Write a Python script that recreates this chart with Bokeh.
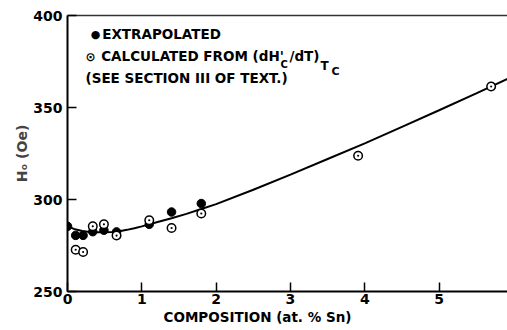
from bokeh.plotting import figure
from bokeh.models import Label, LinearAxis, FixedTicker, Range1d, Title
from bokeh.embed import file_html
from bokeh.resources import INLINE

# Extrapolated H0 values (filled circles)
ext_x = [0.0, 0.11, 0.21, 0.34, 0.49, 0.66, 1.10, 1.40, 1.80]
ext_y = [285.4, 280.5, 280.5, 282.5, 283.3, 282.4, 286.5, 293.2, 297.8]

# Calculated from (dHc'/dT)Tc (open circles with dot)
calc_x = [0.11, 0.21, 0.34, 0.49, 0.66, 1.10, 1.40, 1.80, 3.91, 5.70]
calc_y = [272.7, 271.5, 285.4, 286.5, 280.4, 288.7, 284.5, 292.4, 323.8, 361.4]

# Fitted curve
curve_x = [0.0, 0.1, 0.2, 0.3, 0.4, 0.5, 0.6, 0.7, 0.8, 0.9, 1.0, 1.2, 1.4,
           1.6, 1.8, 2.0, 2.5, 3.0, 3.5, 4.0, 4.5, 5.0, 5.5, 5.92]
curve_y = [285.5, 283.8, 282.9, 282.4, 282.2, 282.2, 282.4, 282.8, 283.5,
           284.4, 285.4, 287.6, 289.8, 292.2, 294.8, 297.5, 305.3, 313.5,
           322.0, 330.5, 339.5, 348.5, 357.7, 365.5]

x_ticks = [0, 1, 2, 3, 4, 5]
y_ticks = [250, 300, 350, 400]

FONT = "DejaVu Sans"

p = figure(width=507, height=330, x_range=Range1d(0, 5.92), y_range=Range1d(250, 400),
           output_backend="svg", toolbar_location=None,
           min_border_left=67, min_border_right=0, min_border_top=15, min_border_bottom=39)
p.grid.visible = False
p.outline_line_color = None
p.background_fill_color = "white"
p.border_fill_color = "white"

for ax, ticks in ((p.xaxis, x_ticks), (p.yaxis, y_ticks)):
    ax.ticker = FixedTicker(ticks=ticks)
    ax.axis_line_width = 2
    ax.axis_line_color = "black"
    ax.major_tick_in = 9
    ax.major_tick_out = 0
    ax.major_tick_line_width = 1.5
    ax.minor_tick_line_color = None
    ax.major_label_text_font = FONT
    ax.major_label_text_font_style = "bold"
    ax.major_label_text_font_size = "14px"
    ax.major_label_text_color = "black"

p.xaxis.major_label_standoff = 2
p.yaxis.major_label_standoff = 5
p.yaxis.axis_label = "Hₒ (Oe)"
p.yaxis.axis_label_text_font = FONT
p.yaxis.axis_label_text_font_style = "bold"
p.yaxis.axis_label_text_font_size = "14px"
p.yaxis.axis_label_standoff = 0

top = LinearAxis(ticker=FixedTicker(ticks=[]), axis_line_width=1.5, axis_line_color="#333333",
                 major_tick_out=0, major_tick_in=0, minor_tick_line_color=None)
p.add_layout(top, "above")

xtitle = Title(text="COMPOSITION (at. % Sn)", align="left", offset=96, standoff=0,
               text_font=FONT, text_font_style="bold", text_font_size="13.5px",
               text_color="black")
p.add_layout(xtitle, "below")

p.line(curve_x, curve_y, line_color="black", line_width=2)
p.scatter(ext_x, ext_y, marker="circle", size=8.5, fill_color="black", line_color="black")
p.scatter(calc_x, calc_y, marker="circle_dot", size=8.5, fill_color="white",
          line_color="black", line_width=1.5)

def lab(text, x, y, size, align="left", baseline="alphabetic"):
    p.add_layout(Label(x=x, y=y, x_units="screen", y_units="screen", text=text,
                       text_font=FONT, text_font_style="bold", text_font_size=size,
                       text_align=align, text_baseline=baseline, text_color="black"))

# legend
lab("●", 28, 257, "11px", align="center", baseline="middle")
lab("EXTRAPOLATED", 34.7, 258, "13.5px")
lab("⊙", 23, 235, "12px", align="center", baseline="middle")
lab("CALCULATED FROM (dH'", 33.7, 236, "13.5px")
lab("C", 213, 227, "10px")
lab("/dT)", 222, 236, "13.5px")
lab("T", 253, 226, "12px")
lab("C", 264, 220, "11px")
lab("(SEE SECTION III OF TEXT.)", 18, 213.5, "13.5px")

open("out.html", "w").write(file_html(p, INLINE))
